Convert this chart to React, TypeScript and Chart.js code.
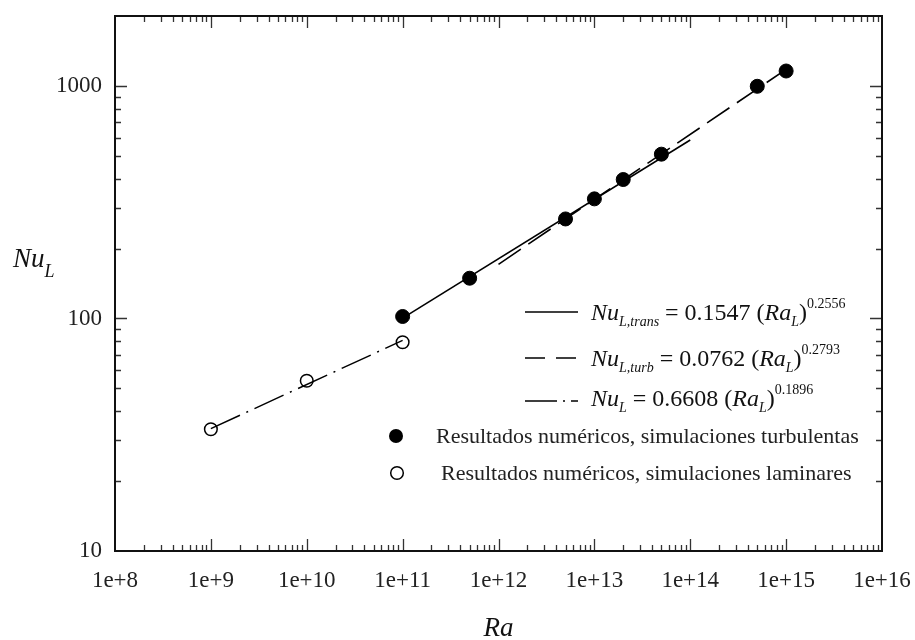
import React, { useEffect, useRef } from "react";
import { Chart, registerables } from "chart.js";

Chart.register(...registerables);

// ---- data ----
const turbRa = [1e11, 5e11, 5e12, 1e13, 2e13, 5e13, 5e14, 1e15];
const turbNu = [102, 149, 268, 327, 396, 509, 997, 1160];
const lamRa = [1e9, 1e10, 1e11];
const lamNu = [33.4, 54, 79];
const transFitRa = [1e11, 1e14];
const transFitNu = [100.3, 586];
const turbFitRa = [1e12, 1e15];
const turbFitNu = [171, 1179];
const lamFitRa = [1e9, 1e11];
const lamFitNu = [33.6, 80.5];
const xTickValues = [1e8, 1e9, 1e10, 1e11, 1e12, 1e13, 1e14, 1e15, 1e16];
const yTickValues = [10, 100, 1000];
const xMin = 1e8;
const xMax = 1e16;
const yMin = 10;
const yMax = 2000;

const SERIF = '"Liberation Serif", "DejaVu Serif", serif';

const pts = (xs: number[], ys: number[]) => xs.map((x, i) => ({ x, y: ys[i] }));

type Seg = { t: string; size: number; italic?: boolean; dy?: number };

function drawSegs(ctx: CanvasRenderingContext2D, segs: Seg[], x: number, y: number) {
  let cx = x;
  for (const s of segs) {
    ctx.font = `${s.italic ? "italic " : ""}${s.size}px ${SERIF}`;
    ctx.fillText(s.t, cx, y + (s.dy || 0));
    cx += ctx.measureText(s.t).width;
  }
}

const decorPlugin = {
  id: "decor",
  afterDraw(chart: any) {
    const ctx: CanvasRenderingContext2D = chart.ctx;
    const { left, right, top, bottom } = chart.chartArea;
    const xs = chart.scales.x;
    const ys = chart.scales.y;
    ctx.save();

    // minor/major ticks (inward, mirrored)
    ctx.strokeStyle = "#333";
    ctx.lineWidth = 1.3;
    ctx.beginPath();
    for (let e = 8; e <= 15; e++) {
      for (let m = 1; m <= 9; m++) {
        const v = m * Math.pow(10, e);
        if (v <= xMin || v >= xMax) continue;
        const px = Math.round(xs.getPixelForValue(v)) + 0.5;
        const len = m === 1 ? 12 : 6;
        ctx.moveTo(px, bottom);
        ctx.lineTo(px, bottom - len);
        ctx.moveTo(px, top);
        ctx.lineTo(px, top + len);
      }
    }
    for (let e = 1; e <= 3; e++) {
      for (let m = 1; m <= 9; m++) {
        const v = m * Math.pow(10, e);
        if (v <= yMin || v >= yMax) continue;
        const py = Math.round(ys.getPixelForValue(v)) + 0.5;
        const len = m === 1 ? 12 : 6;
        ctx.moveTo(left, py);
        ctx.lineTo(left + len, py);
        ctx.moveTo(right, py);
        ctx.lineTo(right - len, py);
      }
    }
    ctx.stroke();

    // frame
    ctx.strokeStyle = "#111";
    ctx.lineWidth = 2;
    ctx.strokeRect(left, top, right - left, bottom - top);

    // axis titles
    ctx.fillStyle = "#111";
    ctx.textBaseline = "alphabetic";
    ctx.textAlign = "left";
    drawSegs(ctx, [
      { t: "Nu", size: 27, italic: true },
      { t: "L", size: 18, italic: true, dy: 10 },
    ], 13, 267);
    ctx.textAlign = "center";
    ctx.font = `italic 27px ${SERIF}`;
    ctx.fillText("Ra", (left + right) / 2, 636);
    ctx.textAlign = "left";

    // legend samples
    ctx.strokeStyle = "#000";
    ctx.lineWidth = 1.5;
    const sampleRows: { y: number; dash: number[] }[] = [
      { y: 312, dash: [] },
      { y: 358, dash: [20, 11] },
      { y: 401, dash: [32, 6, 2, 6] },
    ];
    for (const r of sampleRows) {
      ctx.setLineDash(r.dash);
      ctx.beginPath();
      ctx.moveTo(525, r.y);
      ctx.lineTo(578, r.y);
      ctx.stroke();
    }
    ctx.setLineDash([]);

    const eqRows: { y: number; sub: string; coef: string; exp: string }[] = [
      { y: 320, sub: "L,trans", coef: "0.1547", exp: "0.2556" },
      { y: 366, sub: "L,turb", coef: "0.0762", exp: "0.2793" },
      { y: 406, sub: "L", coef: "0.6608", exp: "0.1896" },
    ];
    for (const r of eqRows) {
      drawSegs(ctx, [
        { t: "Nu", size: 24, italic: true },
        { t: r.sub, size: 14, italic: true, dy: 6 },
        { t: " = " + r.coef + " (", size: 24 },
        { t: "Ra", size: 24, italic: true },
        { t: "L", size: 14, italic: true, dy: 6 },
        { t: ")", size: 24 },
        { t: r.exp, size: 14, dy: -12 },
      ], 591, r.y);
    }

    // marker legend
    ctx.fillStyle = "#000";
    ctx.beginPath();
    ctx.arc(396, 436, 7, 0, Math.PI * 2);
    ctx.fill();
    ctx.lineWidth = 1.5;
    ctx.beginPath();
    ctx.arc(397, 473, 6.3, 0, Math.PI * 2);
    ctx.stroke();
    ctx.fillStyle = "#222";
    ctx.font = `22px ${SERIF}`;
    ctx.fillText("Resultados numéricos, simulaciones turbulentas", 436, 443);
    ctx.fillText("Resultados numéricos, simulaciones laminares", 441, 480);

    ctx.restore();
  },
};

export default function App() {
  const ref = useRef<HTMLCanvasElement | null>(null);
  useEffect(() => {
    if (!ref.current) return;
    const chart = new Chart(ref.current, {
      type: "scatter",
      data: {
        datasets: [
          {
            label: "turb",
            data: pts(turbRa, turbNu),
            pointRadius: 7,
            pointBackgroundColor: "#000",
            pointBorderColor: "#000",
            pointBorderWidth: 1,
            showLine: false,
            order: 0,
          },
          {
            label: "lam",
            data: pts(lamRa, lamNu),
            pointRadius: 6.3,
            pointBackgroundColor: "rgba(0,0,0,0)",
            pointBorderColor: "#000",
            pointBorderWidth: 1.5,
            showLine: false,
            order: 0,
          },
          {
            label: "trans fit",
            data: pts(transFitRa, transFitNu),
            showLine: true,
            borderColor: "#000",
            borderWidth: 1.6,
            pointRadius: 0,
            order: 1,
          },
          {
            label: "turb fit",
            data: pts(turbFitRa, turbFitNu),
            showLine: true,
            borderColor: "#000",
            borderWidth: 1.6,
            borderDash: [27, 9],
            pointRadius: 0,
            order: 1,
          },
          {
            label: "lam fit",
            data: pts(lamFitRa, lamFitNu),
            showLine: true,
            borderColor: "#000",
            borderWidth: 1.5,
            borderDash: [32, 7, 2, 7],
            pointRadius: 0,
            order: 1,
          },
        ],
      },
      options: {
        animation: false,
        responsive: false,
        maintainAspectRatio: false,
        devicePixelRatio: 1,
        layout: { padding: { left: 0, top: 16, right: 33, bottom: 0 } },
        plugins: { legend: { display: false }, tooltip: { enabled: false } },
        scales: {
          x: {
            type: "logarithmic",
            min: xMin,
            max: xMax,
            grid: { display: false },
            border: { display: false },
            afterBuildTicks: (axis: any) => {
              axis.ticks = xTickValues.map((v) => ({ value: v }));
            },
            afterFit: (scale: any) => {
              scale.height = 89;
              scale.paddingLeft = 0;
              scale.paddingRight = 0;
            },
            ticks: {
              autoSkip: false,
              maxRotation: 0,
              minRotation: 0,
              padding: 8,
              color: "#222",
              font: { family: SERIF, size: 23 },
              callback: (v: any) => `1e+${Math.round(Math.log10(Number(v)))}`,
            },
          },
          y: {
            type: "logarithmic",
            min: yMin,
            max: yMax,
            grid: { display: false },
            border: { display: false },
            afterBuildTicks: (axis: any) => {
              axis.ticks = yTickValues.map((v) => ({ value: v }));
            },
            afterFit: (scale: any) => {
              scale.width = 115;
              scale.paddingTop = 0;
              scale.paddingBottom = 0;
            },
            ticks: {
              autoSkip: false,
              padding: 5,
              color: "#222",
              font: { family: SERIF, size: 23 },
              callback: (v: any) => String(v),
            },
          },
        },
      },
      plugins: [decorPlugin],
    } as any);
    return () => chart.destroy();
  }, []);
  return (
    <div style={{ position: "fixed", left: 0, top: 0, width: 915, height: 640, background: "#fff" }}>
      <canvas ref={ref} width={915} height={640} style={{ width: 915, height: 640, display: "block" }} />
    </div>
  );
}
